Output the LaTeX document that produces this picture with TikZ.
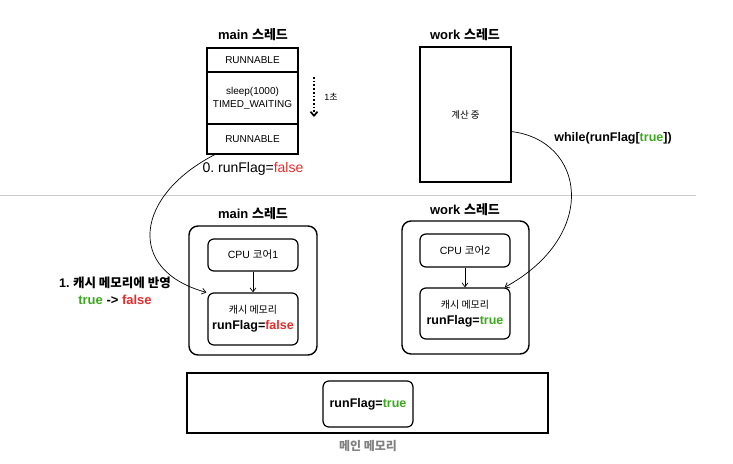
\documentclass[tikz,border=0pt]{standalone}
\usepackage{fontspec}
\setmainfont{Liberation Sans}
\newfontfamily\kr{Noto Sans CJK KR}
\usetikzlibrary{positioning,arrows.meta}
\definecolor{flagred}{rgb}{0.89,0.18,0.18}
\definecolor{flaggreen}{rgb}{0.24,0.66,0.12}
\definecolor{divgray}{rgb}{0.8,0.8,0.8}
\frenchspacing

\begin{document}
\begin{tikzpicture}[x=1pt,y=-1pt,
        cell/.style={draw, line width=1.2pt, minimum width=91pt, inner sep=0pt, outer sep=0pt, align=center, font=\fontsize{10}{13}\selectfont},
        group/.style={draw, line width=1.4pt, rounded corners=9pt, inner sep=0pt},
        unit/.style={draw, line width=1.2pt, rounded corners=6pt, minimum width=90pt, inner sep=0pt, align=center, font=\fontsize{10.5}{13}\selectfont},
        title/.style={font=\bfseries\fontsize{13}{15}\selectfont, inner sep=0pt},
        flow/.style={line width=0.7pt, -{Straight Barb[length=4pt,width=6pt]}}] %thread cache
            \useasboundingbox (0,0) rectangle (733,463);

            % main thread states
            \node[title] (mainT) at (253,35) {main {\kr 스레드}};
            \node[cell, minimum height=24pt] (run1) at (252.5,60) {RUNNABLE};
            \node[cell, minimum height=52pt, below=0pt of run1] (sleep) {sleep(1000)\\TIMED\_WAITING};
            \node[cell, minimum height=30pt, below=0pt of sleep] (run2) {RUNNABLE};
            \coordinate (secA) at (314,77);
            \coordinate (secB) at (314,117);
            \draw[line width=1.7pt, dotted, -{Straight Barb[length=4pt,width=7pt]}] (secA) -- (secB);
            \node[font=\fontsize{9}{11}\selectfont, inner sep=0pt] (secL) at (331,97) {1{\kr 초}};
            \node[font=\fontsize{14}{16}\selectfont, inner sep=0pt] (flag0) at (253,169) {0. runFlag=\textcolor{flagred}{false}};

            % work thread
            \node[title] (workT) at (465,35) {work {\kr 스레드}};
            \node[cell, minimum height=135pt, font=\kr\fontsize{9.5}{11}\selectfont] (calc) at (465.5,114.5) {계산 중};
            \node[font=\bfseries\fontsize{12.5}{15}\selectfont, inner sep=0pt] (loop) at (613,138) {while(runFlag[\textcolor{flaggreen}{true}])};

            \draw[divgray, line width=0.8pt] (0,195) -- (696,195);

            % cpu cores and caches
            \node[title] (mainB) at (253,214) {main {\kr 스레드}};
            \node[group, minimum width=128pt, minimum height=129pt] (mainG) at (253,290.5) {};
            \node[unit, minimum height=32pt] (core1) at (253,255) {CPU {\kr 코어}1};
            \node[unit, minimum height=52pt] (cache1) at (253,319) {{\kr\fontsize{10}{12}\selectfont 캐시 메모리}\\[3pt]{\bfseries\fontsize{12.5}{15}\selectfont runFlag=\textcolor{flagred}{false}}};
            \draw[flow] (core1) -- (cache1);

            \node[title] (workB) at (465,210) {work {\kr 스레드}};
            \node[group, minimum width=127pt, minimum height=133pt] (workG) at (465.5,287.5) {};
            \node[unit, minimum height=33pt] (core2) at (465,250.5) {CPU {\kr 코어}2};
            \node[unit, minimum height=51pt] (cache2) at (465,313.5) {{\kr\fontsize{10}{12}\selectfont 캐시 메모리}\\[3pt]{\bfseries\fontsize{12.5}{15}\selectfont runFlag=\textcolor{flaggreen}{true}}};
            \draw[flow] (core2) -- (cache2);

            % main memory
            \node[draw, line width=1.4pt, minimum width=361pt, minimum height=60pt, inner sep=0pt] (mem) at (367.5,403) {};
            \node[unit, minimum height=46pt, font=\bfseries\fontsize{12.5}{15}\selectfont] (memFlag) at (368,404) {runFlag=\textcolor{flaggreen}{true}};
            \node[font=\kr\bfseries\fontsize{12}{14}\selectfont, text=gray, inner sep=0pt] (memL) at (368,446) {메인 메모리};

            \node[font=\bfseries\fontsize{12.5}{15}\selectfont, inner sep=0pt] (note1) at (115,283) {1. {\kr 캐시 메모리에 반영}};
            \node[font=\bfseries\fontsize{13}{15}\selectfont, inner sep=0pt] (note2) at (115,300) {\textcolor{flaggreen}{true} -> \textcolor{flagred}{false}};

            \draw[flow] ([xshift=9pt]run2.south west) .. controls (135,195) and (125,270) .. ([xshift=-1pt]cache1.north west);
            \draw[flow] ([yshift=-17pt]calc.east) .. controls (585,140) and (600,235) .. ([xshift=-6pt]cache2.north east);
        \end{tikzpicture}
\end{document}
